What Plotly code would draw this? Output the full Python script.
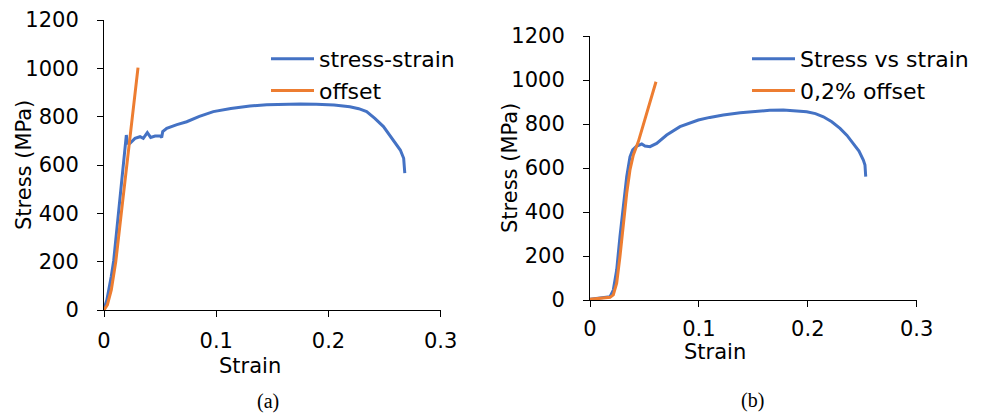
import plotly.graph_objects as go

W, H = 986, 413

# ---- Data ----
# Panel (a)
strain_a = [0, 0.0006, 0.0025, 0.0045, 0.0065, 0.0086, 0.0131, 0.016, 0.0199, 0.0208, 0.0232,
            0.0276, 0.0321, 0.035, 0.0386, 0.0416, 0.0455, 0.050, 0.0514, 0.0523, 0.0559,
            0.065, 0.0737, 0.085, 0.0974, 0.113, 0.130, 0.145, 0.160, 0.175, 0.189, 0.205,
            0.219, 0.227, 0.234, 0.2413, 0.249, 0.2563, 0.264, 0.267, 0.268]
stress_a = [0, 14, 40, 83, 140, 203, 407, 538, 724, 690, 690,
            710, 717, 710, 734, 714, 720, 720, 714, 738, 752,
            767, 779, 801, 821, 834, 844, 849, 851, 852, 851, 848,
            841, 833, 821, 793, 759, 714, 662, 628, 566]
offset_strain_a = [0, 0.003, 0.0065, 0.0085, 0.0105, 0.0154, 0.0234, 0.0303]
offset_stress_a = [0, 21, 83, 140, 200, 400, 724, 1003]

# Panel (b)
strain_b = [0, 0.0092, 0.0184, 0.0214, 0.0245, 0.0275, 0.0306, 0.0337, 0.0367, 0.0392,
            0.0429, 0.0475, 0.0505, 0.0551, 0.0612, 0.0704, 0.0826, 0.0995, 0.110, 0.1224,
            0.138, 0.153, 0.165, 0.1775, 0.190, 0.199, 0.207, 0.2143, 0.222, 0.2296,
            0.236, 0.2418, 0.247, 0.251, 0.2525, 0.2532]
stress_b = [3, 10, 15, 45, 136, 288, 439, 560, 651, 682,
            700, 709, 700, 697, 712, 750, 788, 818, 830, 841,
            851, 859, 862, 864, 861, 856, 847, 833, 810, 780,
            748, 712, 677, 636, 614, 561]
offset_strain_b = [0, 0.0184, 0.0214, 0.0245, 0.0275, 0.0306, 0.0337, 0.0367, 0.0398,
                   0.0444, 0.049, 0.0536, 0.0582, 0.0606]
offset_stress_b = [3, 12, 23, 76, 197, 348, 485, 591, 659, 720, 797, 874, 951, 992]

x_ticks = [0, 0.1, 0.2, 0.3]
x_tick_labels = ["0", "0.1", "0.2", "0.3"]
y_ticks = [0, 200, 400, 600, 800, 1000, 1200]
y_tick_labels = ["0", "200", "400", "600", "800", "1000", "1200"]

names_a = ["stress-strain", "offset"]
names_b = ["Stress vs strain", "0,2% offset"]
captions = ["(a)", "(b)"]
x_title = "Strain"
y_title = "Stress (MPa)"

BLUE = "#4472C4"
ORANGE = "#ED7D31"
FONT = "DejaVu Sans, Verdana, sans-serif"
FS = 21

fig = go.Figure()
fig.add_trace(go.Scatter(x=strain_a, y=stress_a, mode="lines", name=names_a[0],
                         line=dict(color=BLUE, width=3), xaxis="x", yaxis="y", legend="legend"))
fig.add_trace(go.Scatter(x=offset_strain_a, y=offset_stress_a, mode="lines", name=names_a[1],
                         line=dict(color=ORANGE, width=3), xaxis="x", yaxis="y", legend="legend"))
fig.add_trace(go.Scatter(x=strain_b, y=stress_b, mode="lines", name=names_b[0],
                         line=dict(color=BLUE, width=3), xaxis="x2", yaxis="y2", legend="legend2"))
fig.add_trace(go.Scatter(x=offset_strain_b, y=offset_stress_b, mode="lines", name=names_b[1],
                         line=dict(color=ORANGE, width=3), xaxis="x2", yaxis="y2", legend="legend2"))

def px_x(p):
    return p / W

def px_y(p):
    return 1 - p / H

axis_common = dict(showgrid=False, zeroline=False, showline=True, linecolor="black", linewidth=1,
                   ticks="outside", ticklen=6, tickcolor="black", tickwidth=1,
                   tickfont=dict(family=FONT, size=FS, color="black"))

fig.update_layout(
    width=W, height=H, margin=dict(l=0, r=0, t=0, b=0, autoexpand=False),
    paper_bgcolor="white", plot_bgcolor="white",
    xaxis=dict(domain=[px_x(104), px_x(440.7)], range=[0, 0.3], anchor="y",
               tickvals=x_ticks, ticktext=x_tick_labels, ticklabelstandoff=6, **axis_common),
    yaxis=dict(domain=[px_y(310), px_y(20)], range=[0, 1200], anchor="x",
               tickvals=y_ticks, ticktext=y_tick_labels, ticklabelstandoff=14, **axis_common),
    xaxis2=dict(domain=[px_x(590), px_x(916.7)], range=[0, 0.3], anchor="y2",
                tickvals=x_ticks, ticktext=x_tick_labels, ticklabelstandoff=4, **axis_common),
    yaxis2=dict(domain=[px_y(300), px_y(36)], range=[0, 1200], anchor="x2",
                tickvals=y_ticks, ticktext=y_tick_labels, ticklabelstandoff=14, **axis_common),
    legend=dict(x=px_x(266), y=px_y(38), xanchor="left", yanchor="top", itemwidth=43,
                bgcolor="rgba(0,0,0,0)", font=dict(family=FONT, size=22, color="black")),
    legend2=dict(x=px_x(747), y=px_y(38), xanchor="left", yanchor="top", itemwidth=43,
                 bgcolor="rgba(0,0,0,0)", font=dict(family=FONT, size=22, color="black")),
    showlegend=True,
)

ann_font = dict(family=FONT, size=FS, color="black")
cap_font = dict(family="Liberation Serif, Times New Roman, serif", size=20, color="black")
anns = [
    dict(text=x_title, x=px_x(250), y=px_y(366), font=ann_font),
    dict(text=y_title, x=px_x(24), y=px_y(165), font=ann_font, textangle=-90),
    dict(text=x_title, x=px_x(715), y=px_y(352), font=ann_font),
    dict(text=y_title, x=px_x(510), y=px_y(168), font=ann_font, textangle=-90),
    dict(text=captions[0], x=px_x(268), y=px_y(401), font=cap_font),
    dict(text=captions[1], x=px_x(752), y=px_y(400), font=cap_font),
]
for a in anns:
    fig.add_annotation(xref="paper", yref="paper", showarrow=False,
                       xanchor="center", yanchor="middle", **a)

fig.write_html("out.html")
